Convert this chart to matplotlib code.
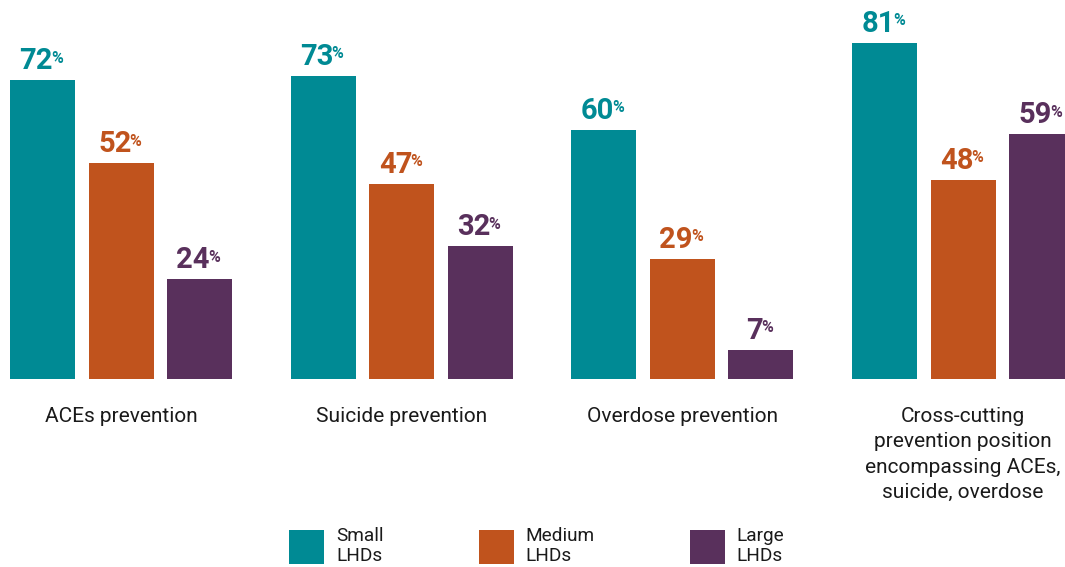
import matplotlib
matplotlib.use("Agg")
import matplotlib.pyplot as plt
from matplotlib.patches import Patch
import numpy as np

plt.rcParams["font.family"] = ["Roboto", "DejaVu Sans"]

categories = [
    "ACEs prevention",
    "Suicide prevention",
    "Overdose prevention",
    "Cross-cutting\nprevention position\nencompassing ACEs,\nsuicide, overdose",
]
series_names = ["Small\nLHDs", "Medium\nLHDs", "Large\nLHDs"]
small = [72, 73, 60, 81]
medium = [52, 47, 29, 48]
large = [24, 32, 7, 59]
colors = ["#008A94", "#C0531D", "#59305C"]

W, H, DPI = 1065, 567, 100
fig = plt.figure(figsize=(W / DPI, H / DPI), dpi=DPI)

# axes: baseline 379 px from top, spanning the full width
base_px = 379
group_px = 280.7
first_center_px = 121
ax = fig.add_axes([0, (H - base_px) / H, 1, base_px / H])
ax.set_xlim(-first_center_px / group_px, (W - first_center_px) / group_px)
ax.set_ylim(0, base_px / 4.15)
for s in ax.spines.values():
    s.set_visible(False)
ax.set_yticks([])

x = np.arange(len(categories))
bar_w = 65 / group_px
step = 78.5 / group_px

for i, (vals, col) in enumerate(zip([small, medium, large], colors)):
    xs = x + (i - 1) * step
    ax.bar(xs, vals, width=bar_w, color=col, label=series_names[i])
    for xi, v in zip(xs, vals):
        t = ax.annotate(str(v), xy=(xi, v), xytext=(-4.5, 8),
                        textcoords="offset points", ha="center", va="baseline",
                        fontsize=21, fontweight="bold", color=col)
        ax.annotate("%", xy=(1, 1), xycoords=t, xytext=(-1.5, -2.5),
                    textcoords="offset points", ha="left", va="top",
                    fontsize=11.5, fontweight="bold", color=col)

ax.set_xticks(x)
ax.set_xticklabels(categories, fontsize=15, color="#1a1a1a")
ax.tick_params(axis="x", length=0, pad=20)
for lbl in ax.get_xticklabels():
    lbl.set_linespacing(1.43)

handles = [Patch(facecolor=c, edgecolor="none") for c in colors]
fs = 13.7
fpx = fs / 72 * DPI
leg = fig.legend(handles, series_names, ncol=3, frameon=False,
                 loc="lower left", bbox_to_anchor=(289 / W, 2 / H),
                 borderpad=0, borderaxespad=0, fontsize=fs,
                 handlelength=35 / fpx, handleheight=35 / fpx * 35 / 27,
                 handletextpad=12 / fpx, columnspacing=95 / fpx,
                 labelspacing=0)
for t in leg.get_texts():
    t.set_color("#1a1a1a")
    t.set_linespacing(1.17)

fig.savefig("out.png", dpi=DPI)
